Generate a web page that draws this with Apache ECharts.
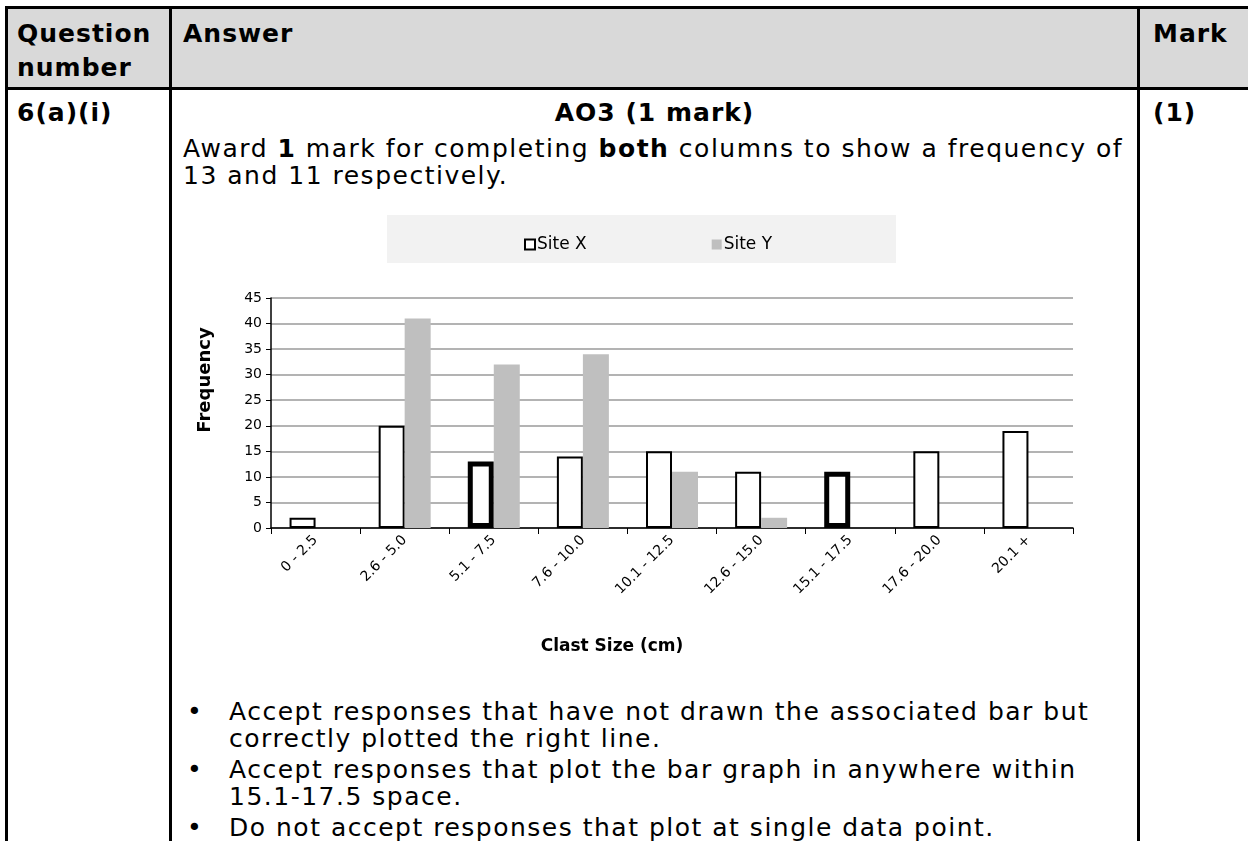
<!DOCTYPE html>
<html>
<head>
<meta charset="utf-8">
<script src="https://cdn.jsdelivr.net/npm/echarts@6/dist/echarts.min.js"></script>
<style>
  body { margin: 0; background: #fff; width: 1248px; height: 841px; overflow: hidden; position: relative;
         font-family: "DejaVu Sans", Verdana, sans-serif; color: #000; }
  .ln { position: absolute; background: #000; }
  .tx { position: absolute; white-space: nowrap; font-size: 25px; line-height: 31px; letter-spacing: 1px; }
  .p { letter-spacing: 1.5px; }
  .b { font-weight: bold; }
  ul { position: absolute; margin: 0; padding: 0; list-style: none; }
  ul li { position: relative; padding-left: 46px; font-size: 25px; line-height: 27px; margin-bottom: 4px;
          white-space: nowrap; letter-spacing: 1.5px; }
  ul li:before { content: "\2022"; position: absolute; left: 4px; }
  #chart { position: absolute; left: 172px; top: 190px; width: 965px; height: 500px; }
</style>
</head>
<body>
  <div class="ln" style="left:5px;right:0;top:6px;height:3px;background:#000"></div>
  <div style="position:absolute;left:8px;right:0;top:9px;height:78px;background:#d9d9d9"></div>
  <div class="ln" style="left:5px;right:0;top:87px;height:3px"></div>
  <div class="ln" style="left:5px;width:3px;top:6px;bottom:0"></div>
  <div class="ln" style="left:169px;width:3px;top:6px;bottom:0"></div>
  <div class="ln" style="left:1137px;width:3px;top:6px;bottom:0"></div>

  <div class="tx b" style="left:17px;top:17px;line-height:34px">Question<br>number</div>
  <div class="tx b" style="left:183px;top:17px;line-height:34px">Answer</div>
  <div class="tx b" style="left:1153px;top:17px;line-height:34px">Mark</div>

  <div class="tx b" style="left:17px;top:97px">6(a)(i)</div>
  <div class="tx b" style="left:172px;width:965px;text-align:center;top:97px">AO3 (1 mark)</div>
  <div class="tx b" style="left:1153px;top:97px">(1)</div>

  <div class="tx p" style="left:183px;top:135px;line-height:27px">Award <b>1</b> mark for completing <b>both</b> columns to show a frequency of<br>13 and 11 respectively.</div>

  <div id="chart"></div>

  <ul style="left:183px;top:698px">
    <li>Accept responses that have not drawn the associated bar but<br>correctly plotted the right line.</li>
    <li>Accept responses that plot the bar graph in anywhere within<br>15.1-17.5 space.</li>
    <li>Do not accept responses that plot at single data point.</li>
  </ul>

<script>
  // 数据
  var categories = ['0 - 2.5', '2.6 - 5.0', '5.1 - 7.5', '7.6 - 10.0', '10.1 - 12.5', '12.6 - 15.0', '15.1 - 17.5', '17.6 - 20.0', '20.1 +'];
  var siteX = [2, 20, 13, 14, 15, 11, 11, 15, 19];
  var siteY = [0, 41, 32, 34, 11, 2, 0, 0, 0];
  // the two bars drawn in by the candidate (thick outline)
  var addedBars = [2, 6];
  var yMin = 0, yMax = 45, yStep = 5;

  var myChart = echarts.init(document.getElementById('chart'));

  var siteXData = siteX.map(function (v, i) {
    if (addedBars.indexOf(i) >= 0) {
      return { value: v, itemStyle: { borderWidth: 5 } };
    }
    return v;
  });

  var option = {
    animation: false,
    textStyle: { fontFamily: 'DejaVu Sans' },
    graphic: [
      {
        type: 'rect',
        left: 215, top: 25,
        shape: { width: 509, height: 48 },
        style: { fill: '#f2f2f2' },
        z: 0
      }
    ],
    legend: {
      left: 347,
      top: 41,
      itemWidth: 10,
      itemHeight: 10,
      itemGap: 125,
      icon: 'rect',
      textStyle: { fontSize: 17, color: '#000', padding: [0, 0, 0, -3] },
      data: ['Site X', 'Site Y']
    },
    grid: {
      left: 99,
      right: 64,
      top: 108,
      bottom: 162,
      containLabel: false
    },
    xAxis: {
      type: 'category',
      data: categories,
      name: 'Clast Size (cm)',
      nameLocation: 'middle',
      nameGap: 110,
      nameTextStyle: { fontSize: 17, fontWeight: 'bold', color: '#000', padding: [0, 120, 0, 0] },
      axisLine: { lineStyle: { color: '#000', width: 1.5 } },
      axisTick: { show: true, length: 6, lineStyle: { color: '#000' } },
      axisLabel: { rotate: 45, fontSize: 14, color: '#000', margin: 10 }
    },
    yAxis: {
      type: 'value',
      min: yMin,
      max: yMax,
      interval: yStep,
      name: 'Frequency',
      nameLocation: 'middle',
      nameRotate: 90,
      nameGap: 57,
      nameTextStyle: { fontSize: 18, fontWeight: 'bold', color: '#000', padding: [0, 0, 0, 66] },
      axisLine: { show: true, lineStyle: { color: '#000', width: 1.5 } },
      axisTick: { show: true, length: 5, lineStyle: { color: '#000' } },
      axisLabel: { fontSize: 14, color: '#000', margin: 9 },
      splitLine: { lineStyle: { color: '#9a9a9a', width: 1.5 } }
    },
    series: [
      {
        name: 'Site X',
        type: 'bar',
        barWidth: 26,
        barGap: '0%',
        itemStyle: { color: '#fff', borderColor: '#000', borderWidth: 2 },
        data: siteXData
      },
      {
        name: 'Site Y',
        type: 'bar',
        barWidth: 26,
        itemStyle: { color: '#bfbfbf' },
        data: siteY
      }
    ]
  };

  myChart.setOption(option);
</script>
</body>
</html>
